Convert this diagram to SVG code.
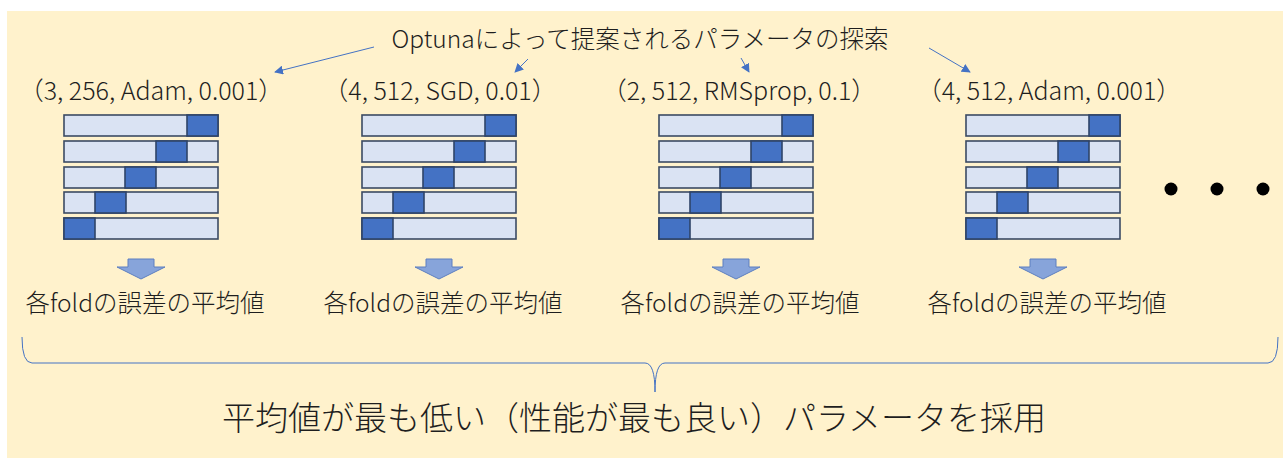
<svg xmlns="http://www.w3.org/2000/svg" width="1283" height="458" viewBox="0 0 1283 458">
<style>
text{font-family:"Noto Sans CJK JP","Noto Sans",sans-serif;fill:#1E1E1E;font-weight:300}
.lbl{font-size:25px;text-anchor:middle}
.fold{font-size:24.5px;text-anchor:middle}
.top{font-size:24.5px;text-anchor:middle}
.bottom{font-size:33px;text-anchor:middle}
.row{fill:#DAE3F3;stroke:#3B4A63;stroke-width:1.6}
.seg{fill:#4472C4;stroke:#2F4468;stroke-width:1.6}
.dn{fill:#87A4DA;stroke:#5D7FC0;stroke-width:1}
.conn{stroke:#4472C4;stroke-width:1;fill:none}
</style>
<defs>
<marker id="ah" viewBox="0 0 10 10" refX="9" refY="5" markerWidth="9" markerHeight="9" markerUnits="userSpaceOnUse" orient="auto">
<path d="M0,0 L10,5 L0,10 z" fill="#4472C4"/>
</marker>
<g id="folds">
<rect class="row" x="0" y="0" width="154" height="21"/>
<rect class="seg" x="123" y="0" width="31" height="21"/>
<rect class="row" x="0" y="26" width="154" height="21"/>
<rect class="seg" x="92" y="26" width="31" height="21"/>
<rect class="row" x="0" y="52" width="154" height="21"/>
<rect class="seg" x="61" y="52" width="31" height="21"/>
<rect class="row" x="0" y="77" width="154" height="21"/>
<rect class="seg" x="31" y="77" width="31" height="21"/>
<rect class="row" x="0" y="103" width="154" height="21"/>
<rect class="seg" x="0" y="103" width="31" height="21"/>
</g>
<path id="down" class="dn" d="M-13,0 L13,0 L13,8 L24,8 L0,20 L-24,8 L-13,8 z"/>
</defs>
<rect x="0" y="0" width="1283" height="458" fill="#FFFFFF"/>
<rect x="7" y="11" width="1276" height="447" fill="#FFF2CC"/>

<g id="title">
<text class="top" x="640" y="48">Optunaによって提案されるパラメータの探索</text>
</g>

<g id="trial1">
<text class="lbl" x="151" y="100">（3, 256, Adam, 0.001）</text>
<use href="#folds" x="64" y="115"/>
<use href="#down" x="141" y="259"/>
<text class="fold" x="145" y="312">各foldの誤差の平均値</text>
</g>
<g id="trial2">
<text class="lbl" x="440" y="100">（4, 512, SGD, 0.01）</text>
<use href="#folds" x="362" y="115"/>
<use href="#down" x="439" y="259"/>
<text class="fold" x="443" y="312">各foldの誤差の平均値</text>
</g>
<g id="trial3">
<text class="lbl" x="739" y="100">（2, 512, RMSprop, 0.1）</text>
<use href="#folds" x="659" y="115"/>
<use href="#down" x="736" y="259"/>
<text class="fold" x="740" y="312">各foldの誤差の平均値</text>
</g>
<g id="trial4">
<text class="lbl" x="1049" y="100">（4, 512, Adam, 0.001）</text>
<use href="#folds" x="966" y="115"/>
<use href="#down" x="1043" y="259"/>
<text class="fold" x="1047" y="312">各foldの誤差の平均値</text>
</g>

<g id="more">
<circle cx="1171" cy="189" r="6.5" fill="#000"/>
<circle cx="1217" cy="189" r="6.5" fill="#000"/>
<circle cx="1263" cy="189" r="6.5" fill="#000"/>
</g>

<g id="connectors">
<line class="conn" x1="374" y1="47" x2="275" y2="72" marker-end="url(#ah)"/>
<line class="conn" x1="528" y1="59" x2="515" y2="72" marker-end="url(#ah)"/>
<line class="conn" x1="741" y1="58" x2="749" y2="72" marker-end="url(#ah)"/>
<line class="conn" x1="929" y1="48" x2="970" y2="72" marker-end="url(#ah)"/>
<path class="conn" d="M22,337 Q22,363 32,363 L645,363 Q655,363 655,392 Q655,363 665,363 L1268,363 Q1278,363 1278,337"/>
</g>

<g id="result">
<text class="bottom" x="634" y="430">平均値が最も低い（性能が最も良い）パラメータを採用</text>
</g>
</svg>
